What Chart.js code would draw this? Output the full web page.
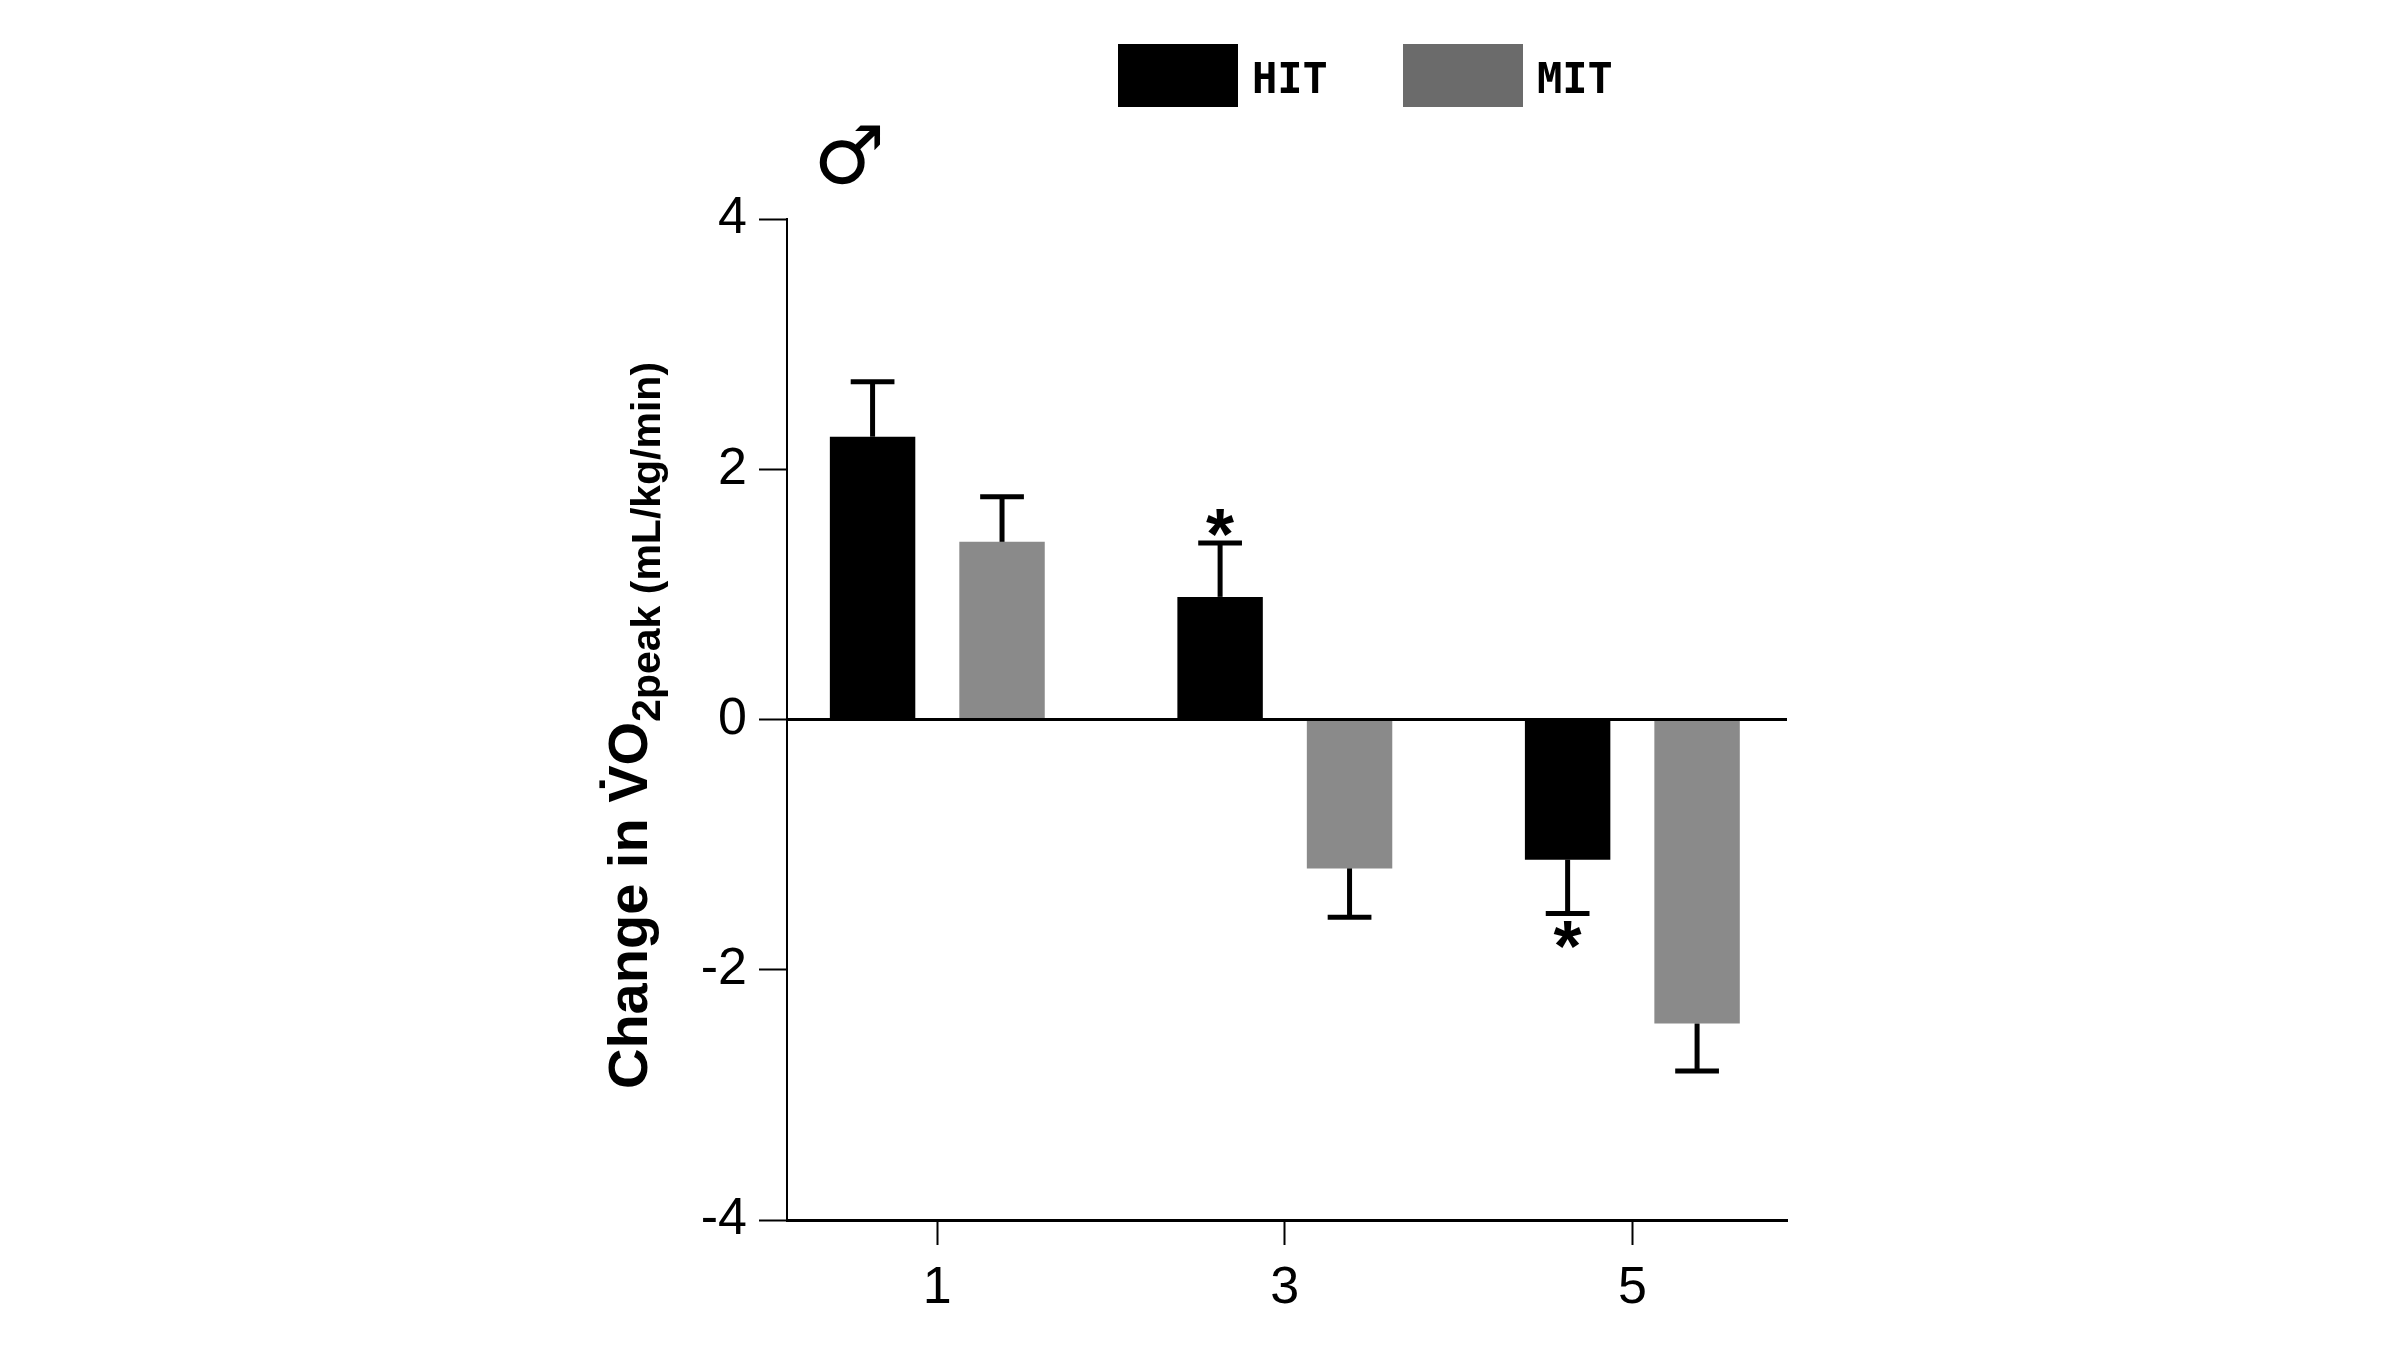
<!DOCTYPE html>
<html>
<head>
<meta charset="utf-8">
<script src="https://cdn.jsdelivr.net/npm/chart.js@4.4.1/dist/chart.umd.min.js"></script>
<style>
  html, body { margin: 0; padding: 0; background: #ffffff; }
  canvas { display: block; }
</style>
</head>
<body>
<canvas id="c" width="2400" height="1350"></canvas>
<script>
// ---- data ----
const categories = [1, 3, 5];
const seriesNames = ['HIT', 'MIT'];
const hitMeans = [2.26, 0.98, -1.12];
const hitErrors = [0.44, 0.43, 0.43];
const mitMeans = [1.42, -1.19, -2.43];
const mitErrors = [0.36, 0.39, 0.38];
const hitMarks = ['', '*', '*'];
const mitMarks = ['', '', ''];
const yTickValues = [-4, -2, 0, 2, 4];
const xTickValues = [1, 3, 5];
const sexSymbol = '\u2642';
const titleMain = 'Change in V\u0307O';
const titleSub = '2peak (mL/kg/min)';

// ---- styles ----
const HIT_COLOR = '#000000';
const MIT_COLOR = '#8a8a8a';
const MIT_LEGEND_COLOR = '#6b6b6b';
const SANS = '"Liberation Sans", Arial, sans-serif';

const errorBarPlugin = {
  id: 'errorBars',
  afterDatasetsDraw(chart) {
    const ctx = chart.ctx;
    const y = chart.scales.y;
    ctx.save();
    ctx.strokeStyle = '#000';
    ctx.fillStyle = '#000';
    chart.data.datasets.forEach((ds, di) => {
      const meta = chart.getDatasetMeta(di);
      meta.data.forEach((bar, i) => {
        const v = ds.data[i].y;
        const e = ds.errors[i];
        const sign = v >= 0 ? 1 : -1;
        const yEnd = y.getPixelForValue(v + sign * e);
        const half = bar.width * 0.256;
        ctx.lineWidth = 5;
        ctx.beginPath();
        ctx.moveTo(bar.x, bar.y);
        ctx.lineTo(bar.x, yEnd);
        ctx.stroke();
        ctx.beginPath();
        ctx.moveTo(bar.x - half, yEnd);
        ctx.lineTo(bar.x + half, yEnd);
        ctx.stroke();
        const mark = ds.marks[i];
        if (mark) {
          ctx.font = 'bold 72px ' + SANS;
          ctx.textAlign = 'center';
          ctx.textBaseline = 'alphabetic';
          const m = ctx.measureText(mark);
          const cy = yEnd - sign * 21;
          const base = cy + (m.actualBoundingBoxAscent - m.actualBoundingBoxDescent) / 2;
          ctx.fillText(mark, bar.x, base);
        }
      });
    });
    ctx.restore();
  }
};

const decorPlugin = {
  id: 'decor',
  afterDraw(chart) {
    const ctx = chart.ctx;
    const area = chart.chartArea;
    ctx.save();
    // legend
    ctx.font = 'bold 42px "DejaVu Sans Mono", monospace';
    ctx.textBaseline = 'alphabetic';
    ctx.textAlign = 'left';
    const legendX = [1118, 1403];
    chart.data.datasets.forEach((ds, i) => {
      ctx.fillStyle = ds.legendColor;
      ctx.fillRect(legendX[i], 44, 120, 63);
      ctx.fillStyle = '#000';
      ctx.fillText(ds.label, legendX[i] + 134, 93);
    });
    // sex symbol
    ctx.font = '80px "DejaVu Sans", sans-serif';
    ctx.textAlign = 'left';
    const sm = ctx.measureText(sexSymbol);
    const w = sm.actualBoundingBoxLeft + sm.actualBoundingBoxRight;
    const h = sm.actualBoundingBoxAscent + sm.actualBoundingBoxDescent;
    const cx = 850, cy = 155;
    ctx.fillText(sexSymbol, cx - w / 2 + sm.actualBoundingBoxLeft, cy - h / 2 + sm.actualBoundingBoxAscent);
    // y axis title (rotated)
    const mainFont = 'bold 56px ' + SANS;
    const subFont = 'bold 41px ' + SANS;
    ctx.font = mainFont;
    const w1 = ctx.measureText(titleMain).width;
    ctx.font = subFont;
    const w2 = ctx.measureText(titleSub).width;
    const total = w1 + w2;
    const centerY = (area.top + area.bottom) / 2 + 6;
    ctx.translate(area.left - 140, centerY);
    ctx.rotate(-Math.PI / 2);
    ctx.fillStyle = '#000';
    ctx.textAlign = 'left';
    ctx.font = mainFont;
    ctx.fillText(titleMain, -total / 2, 0);
    ctx.font = subFont;
    ctx.fillText(titleSub, -total / 2 + w1, 13);
    ctx.restore();
  }
};

const tickFont = { family: SANS, size: 52 };

new Chart(document.getElementById('c').getContext('2d'), {
  type: 'bar',
  data: {
    datasets: [
      {
        label: seriesNames[0],
        data: categories.map((c, i) => ({ x: c, y: hitMeans[i] })),
        backgroundColor: HIT_COLOR,
        errors: hitErrors,
        marks: hitMarks,
        legendColor: HIT_COLOR
      },
      {
        label: seriesNames[1],
        data: categories.map((c, i) => ({ x: c, y: mitMeans[i] })),
        backgroundColor: MIT_COLOR,
        errors: mitErrors,
        marks: mitMarks,
        legendColor: MIT_LEGEND_COLOR
      }
    ]
  },
  options: {
    responsive: false,
    animation: false,
    devicePixelRatio: 1,
    categoryPercentage: 0.745,
    barPercentage: 0.66,
    layout: { padding: { left: 677, right: 613, top: 219, bottom: 0 } },
    plugins: { legend: { display: false }, tooltip: { enabled: false } },
    scales: {
      x: {
        type: 'linear',
        min: 0.135,
        max: 5.89,
        offset: false,
        afterBuildTicks: (s) => { s.ticks = xTickValues.map(v => ({ value: v })); },
        afterFit: (s) => { s.height = 130; },
        grid: { offset: false, drawOnChartArea: false, drawTicks: true, tickLength: 25, tickColor: '#000', tickWidth: 2 },
        border: { display: true, color: '#000', width: 3 },
        ticks: { color: '#000', font: tickFont, padding: 12, maxRotation: 0, autoSkip: false, callback: (v) => String(v) }
      },
      y: {
        min: -4,
        max: 4,
        afterBuildTicks: (s) => { s.ticks = yTickValues.map(v => ({ value: v })); },
        afterFit: (s) => { s.width = 110; },
        grid: {
          drawOnChartArea: true,
          drawTicks: true,
          tickLength: 28,
          tickColor: '#000',
          tickWidth: 2,
          color: (c) => (c.tick && c.tick.value === 0) ? '#000' : 'rgba(0,0,0,0)',
          lineWidth: (c) => (c.tick && c.tick.value === 0) ? 3 : 1
        },
        border: { display: true, color: '#000', width: 2 },
        ticks: { color: '#000', font: tickFont, padding: 12, autoSkip: false, callback: (v) => String(v) }
      }
    }
  },
  plugins: [errorBarPlugin, decorPlugin]
});
</script>
</body>
</html>
